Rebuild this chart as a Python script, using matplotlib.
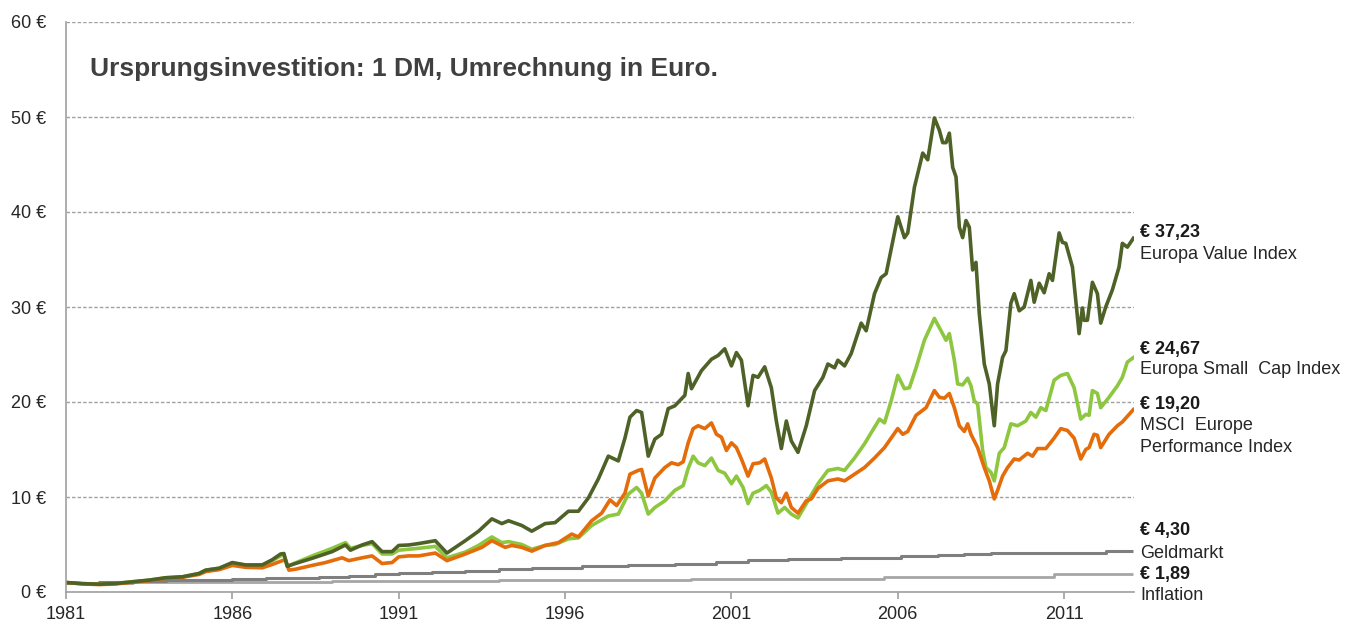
import matplotlib
matplotlib.use("Agg")
import matplotlib.pyplot as plt

plt.rcParams['font.family'] = ['Liberation Sans', 'DejaVu Sans']

# ---------------- data ----------------
value_years = [1981.0, 1981.5, 1982.0, 1982.5, 1983.0, 1983.5, 1984.0, 1984.5, 1985.0, 1985.2, 1985.6,
               1986.0, 1986.4, 1986.9, 1987.2, 1987.45, 1987.55, 1987.65, 1987.85, 1988.4, 1989.0,
               1989.4, 1989.55, 1989.9, 1990.2, 1990.5, 1990.8, 1991.0, 1991.3, 1991.6, 1992.1,
               1992.45, 1993.0, 1993.4, 1993.8, 1994.1, 1994.3, 1994.7, 1995.0, 1995.4, 1995.7,
               1996.1, 1996.4, 1996.7, 1997.0, 1997.3, 1997.6, 1997.8, 1997.95, 1998.15, 1998.3,
               1998.5, 1998.7, 1998.9, 1999.1, 1999.3, 1999.6, 1999.7, 1999.8, 2000.1, 2000.4,
               2000.6, 2000.8, 2001.0, 2001.15, 2001.3, 2001.5, 2001.65, 2001.8, 2002.0, 2002.2,
               2002.35, 2002.5, 2002.65, 2002.8, 2003.0, 2003.25, 2003.5, 2003.75, 2003.9, 2004.1,
               2004.2, 2004.4, 2004.6, 2004.9, 2005.05, 2005.3, 2005.5, 2005.65, 2006.0, 2006.2,
               2006.3, 2006.5, 2006.75, 2006.9, 2007.1, 2007.25, 2007.35, 2007.45, 2007.55, 2007.65,
               2007.75, 2007.85, 2007.95, 2008.05, 2008.15, 2008.25, 2008.35, 2008.45, 2008.6, 2008.75,
               2008.9, 2009.0, 2009.15, 2009.25, 2009.4, 2009.5, 2009.65, 2009.8, 2010.0, 2010.1,
               2010.25, 2010.4, 2010.55, 2010.65, 2010.85, 2010.95, 2011.05, 2011.25, 2011.45, 2011.55,
               2011.6, 2011.7, 2011.85, 2012.0, 2012.1, 2012.25, 2012.45, 2012.65, 2012.75, 2012.9,
               2013.08]
value_vals = [1.0, 0.88, 0.82, 0.9, 1.08, 1.25, 1.5, 1.6, 1.95, 2.3, 2.5,
              3.1, 2.85, 2.85, 3.4, 4.0, 4.05, 2.7, 2.95, 3.55, 4.25,
              4.95, 4.4, 4.95, 5.3, 4.25, 4.25, 4.9, 4.95, 5.1, 5.4,
              4.1, 5.4, 6.4, 7.7, 7.2, 7.5, 7.0, 6.4, 7.2, 7.3,
              8.5, 8.5, 9.9, 11.9, 14.3, 13.8, 16.2, 18.4, 19.1, 18.9,
              14.3, 16.1, 16.6, 19.3, 19.6, 20.7, 23.0, 21.4, 23.3, 24.5,
              24.9, 25.6, 23.8, 25.2, 24.4, 19.6, 22.8, 22.6, 23.7, 21.5,
              18.0, 15.1, 18.0, 15.9, 14.7, 17.5, 21.2, 22.6, 24.0, 23.6,
              24.4, 23.8, 25.1, 28.3, 27.5, 31.4, 33.1, 33.5, 39.5, 37.3,
              37.8, 42.6, 46.2, 45.5, 49.9, 48.6, 47.3, 47.3, 48.3, 44.7,
              43.7, 38.4, 37.3, 39.1, 38.4, 33.9, 34.7, 29.3, 24.0, 21.9,
              17.5, 21.9, 24.7, 25.4, 30.4, 31.4, 29.6, 30.0, 32.8, 30.5,
              32.5, 31.5, 33.5, 32.8, 37.8, 36.8, 36.7, 34.2, 27.2, 29.9,
              28.6, 28.6, 32.6, 31.4, 28.3, 30.0, 31.8, 34.2, 36.7, 36.3,
              37.23]

small_years = [1981.0, 1981.5, 1982.0, 1982.5, 1983.0, 1983.5, 1984.0, 1984.5, 1985.0, 1985.2, 1985.6,
               1986.0, 1986.4, 1986.9, 1987.2, 1987.45, 1987.55, 1987.65, 1987.85, 1988.4, 1989.0,
               1989.4, 1989.55, 1989.9, 1990.2, 1990.5, 1990.8, 1991.0, 1991.3, 1991.6, 1992.1,
               1992.45, 1993.0, 1993.4, 1993.8, 1994.1, 1994.3, 1994.7, 1995.0, 1995.4, 1995.7,
               1996.1, 1996.4, 1996.8, 1997.3, 1997.6, 1997.9, 1998.15, 1998.3, 1998.5, 1998.7,
               1999.0, 1999.3, 1999.55, 1999.7, 1999.85, 2000.0, 2000.2, 2000.4, 2000.6, 2000.8,
               2001.0, 2001.15, 2001.35, 2001.5, 2001.65, 2001.85, 2002.05, 2002.2, 2002.4, 2002.6,
               2002.8, 2003.0, 2003.3, 2003.6, 2003.9, 2004.2, 2004.4, 2004.7, 2005.0, 2005.45,
               2005.6, 2005.8, 2006.0, 2006.2, 2006.35, 2006.55, 2006.8, 2007.1, 2007.3, 2007.45,
               2007.55, 2007.7, 2007.8, 2007.95, 2008.1, 2008.2, 2008.3, 2008.4, 2008.55, 2008.65,
               2008.8, 2008.9, 2009.05, 2009.2, 2009.4, 2009.6, 2009.85, 2010.0, 2010.15, 2010.3,
               2010.45, 2010.7, 2010.9, 2011.1, 2011.3, 2011.5, 2011.65, 2011.75, 2011.85, 2012.0,
               2012.1, 2012.35, 2012.6, 2012.75, 2012.9, 2013.08]
small_vals = [1.0, 0.88, 0.82, 0.9, 1.08, 1.25, 1.5, 1.6, 1.95, 2.3, 2.5,
              3.05, 2.8, 2.85, 3.3, 3.8, 3.9, 2.7, 3.0, 3.8, 4.6,
              5.2, 4.6, 4.9, 5.1, 4.0, 4.0, 4.4, 4.5, 4.6, 4.8,
              3.6, 4.2, 4.9, 5.8, 5.2, 5.3, 5.0, 4.5, 4.9, 5.0,
              5.6, 5.7, 7.0, 8.0, 8.2, 10.3, 11.0, 10.4, 8.2, 8.9,
              9.6, 10.7, 11.2, 13.0, 14.3, 13.6, 13.3, 14.1, 12.8, 12.5,
              11.4, 12.2, 11.0, 9.3, 10.4, 10.7, 11.2, 10.5, 8.3, 8.9,
              8.2, 7.8, 9.6, 11.4, 12.8, 13.0, 12.8, 14.1, 15.6, 18.2,
              17.8, 20.1, 22.8, 21.4, 21.5, 23.6, 26.5, 28.8, 27.5, 26.5,
              27.2, 24.4, 21.9, 21.8, 22.5, 21.7, 20.1, 19.8, 14.9, 13.1,
              12.6, 11.7, 14.6, 15.2, 17.7, 17.5, 18.0, 18.9, 18.4, 19.4,
              19.1, 22.3, 22.8, 23.0, 21.5, 18.2, 18.7, 18.6, 21.2, 20.9,
              19.4, 20.5, 21.7, 22.6, 24.2, 24.67]

msci_years = [1981.0, 1981.5, 1982.0, 1982.5, 1983.0, 1983.5, 1984.0, 1984.5, 1985.0, 1985.2, 1985.6,
              1986.0, 1986.4, 1986.9, 1987.2, 1987.5, 1987.6, 1987.7, 1987.9, 1988.4, 1988.8,
              1989.3, 1989.5, 1989.9, 1990.2, 1990.5, 1990.8, 1991.0, 1991.3, 1991.6, 1992.1,
              1992.45, 1993.0, 1993.5, 1993.8, 1994.2, 1994.4, 1994.7, 1995.0, 1995.4, 1995.8,
              1996.2, 1996.4, 1996.8, 1997.1, 1997.35, 1997.55, 1997.8, 1997.95, 1998.2, 1998.3,
              1998.5, 1998.7, 1999.0, 1999.2, 1999.4, 1999.55, 1999.7, 1999.85, 2000.0, 2000.2,
              2000.4, 2000.55, 2000.7, 2000.85, 2001.0, 2001.15, 2001.3, 2001.5, 2001.65, 2001.85,
              2002.0, 2002.2, 2002.35, 2002.5, 2002.65, 2002.8, 2003.0, 2003.25, 2003.4, 2003.6,
              2003.9, 2004.2, 2004.4, 2004.7, 2005.0, 2005.3, 2005.6, 2006.0, 2006.15, 2006.3,
              2006.55, 2006.85, 2007.1, 2007.25, 2007.4, 2007.55, 2007.7, 2007.85, 2008.0, 2008.1,
              2008.2, 2008.4, 2008.6, 2008.75, 2008.9, 2009.0, 2009.15, 2009.3, 2009.5, 2009.65,
              2009.9, 2010.05, 2010.2, 2010.45, 2010.7, 2010.9, 2011.1, 2011.3, 2011.5, 2011.65,
              2011.75, 2011.9, 2012.0, 2012.1, 2012.35, 2012.6, 2012.75, 2013.08]
msci_vals = [1.0, 0.85, 0.78, 0.85, 1.02, 1.2, 1.45, 1.55, 1.85, 2.15, 2.35,
             2.8, 2.6, 2.55, 2.9, 3.3, 3.4, 2.3, 2.4, 2.8, 3.1,
             3.6, 3.3, 3.6, 3.8, 3.0, 3.1, 3.7, 3.8, 3.8, 4.1,
             3.3, 4.0, 4.7, 5.4, 4.7, 4.9, 4.7, 4.3, 4.9, 5.2,
             6.1, 5.8, 7.5, 8.3, 9.7, 9.1, 10.4, 12.4, 12.8, 12.9,
             10.1, 12.0, 13.1, 13.6, 13.4, 13.7, 15.7, 17.2, 17.5, 17.2,
             17.8, 16.6, 16.3, 14.9, 15.7, 15.2, 14.0, 12.2, 13.5, 13.6,
             14.0, 12.0, 9.9, 9.4, 10.4, 8.9, 8.3, 9.6, 9.8, 10.9,
             11.7, 11.9, 11.7, 12.4, 13.1, 14.1, 15.2, 17.2, 16.6, 16.9,
             18.6, 19.4, 21.2, 20.5, 20.4, 20.9, 19.4, 17.5, 16.9, 17.7,
             16.6, 15.2, 13.1, 11.7, 9.8, 10.7, 12.2, 13.1, 14.0, 13.9,
             14.6, 14.3, 15.1, 15.1, 16.2, 17.2, 17.0, 16.2, 14.0, 15.0,
             15.2, 16.6, 16.5, 15.2, 16.6, 17.5, 17.9, 19.20]

geld_years = [1981.0, 1982.0, 1983.0, 1984.0, 1985.0, 1986.0, 1987.0, 1988.0, 1988.6, 1989.5,
              1990.3, 1991.0, 1992.0, 1993.0, 1994.0, 1995.0, 1996.5, 1997.9, 1999.3, 2000.55,
              2001.5, 2002.7, 2004.3, 2006.1, 2007.2, 2008.0, 2008.8, 2012.25, 2013.08]
geld_vals = [1.0, 1.1, 1.17, 1.23, 1.3, 1.37, 1.45, 1.52, 1.6, 1.7,
             1.85, 1.97, 2.1, 2.25, 2.38, 2.5, 2.72, 2.88, 3.0, 3.15,
             3.35, 3.5, 3.6, 3.75, 3.9, 4.05, 4.15, 4.28, 4.30]

infl_years = [1981.0, 1983.0, 1986.0, 1989.0, 1991.5, 1994.0, 1999.8, 2005.6, 2010.7, 2013.08]
infl_vals = [1.0, 1.05, 1.1, 1.15, 1.2, 1.3, 1.42, 1.6, 1.85, 1.89]

year_ticks = [1981, 1986, 1991, 1996, 2001, 2006, 2011]
euro_ticks = [0, 10, 20, 30, 40, 50, 60]

labels = [("€ 37,23", "Europa Value Index"),
          ("€ 24,67", "Europa Small  Cap Index"),
          ("€ 19,20", "MSCI  Europe\nPerformance Index"),
          ("€ 4,30", "Geldmarkt"),
          ("€ 1,89", "Inflation")]

title = "Ursprungsinvestition: 1 DM, Umrechnung in Euro."

# ---------------- plot ----------------
W, H = 1346, 623
fig = plt.figure(figsize=(W / 100, H / 100), dpi=100)
ax = fig.add_axes([66 / W, 1 - 592 / H, (1134 - 66) / W, (592 - 22) / H])

c_value = "#4e6228"
c_small = "#8dc63f"
c_msci = "#e46c0a"
c_geld = "#7f7f7f"
c_infl = "#a6a6a6"

ax.plot(infl_years, infl_vals, color=c_infl, lw=2.0, drawstyle="steps-post", solid_capstyle="butt")
ax.plot(geld_years, geld_vals, color=c_geld, lw=2.2, drawstyle="steps-post", solid_capstyle="butt")
ax.plot(small_years, small_vals, color=c_small, lw=2.6, solid_joinstyle="round")
ax.plot(msci_years, msci_vals, color=c_msci, lw=2.6, solid_joinstyle="round")
ax.plot(value_years, value_vals, color=c_value, lw=2.6, solid_joinstyle="round")

ax.set_xlim(1981, 2013.1)
ax.set_ylim(0, 60)

ax.set_yticks(euro_ticks)
ax.set_yticklabels([f"{v} €" for v in euro_ticks])
ax.set_xticks(year_ticks)
ax.set_xticklabels([str(y) for y in year_ticks])

ax.yaxis.grid(True, color="#a0a0a0", linestyle=(0, (2.5, 1.5)), lw=1.0)
ax.set_axisbelow(True)
for s in ["top", "right"]:
    ax.spines[s].set_visible(False)
for s in ["left", "bottom"]:
    ax.spines[s].set_color("#a0a0a0")
    ax.spines[s].set_linewidth(1.2)

ax.tick_params(axis="y", length=0, pad=14, labelsize=13, labelcolor="#262626")
ax.tick_params(axis="x", length=5, width=1.2, color="#a0a0a0", pad=5, labelsize=13, labelcolor="#262626")

fig.text(90 / W, 1 - 69 / H, title, fontsize=19, fontweight="bold", color="#404040",
         ha="left", va="center")

# right-side labels
label_y = [(232, [254]), (349, [370]), (405, [426, 448]), (531, [553]), (575, [596])]
for (val, name), (vy, ny) in zip(labels, label_y):
    fig.text(1140 / W, 1 - vy / H, val, fontsize=13, fontweight="bold", color="#1a1a1a",
             ha="left", va="center")
    for line, y in zip(name.split("\n"), ny):
        fig.text(1140 / W, 1 - y / H, line, fontsize=13, color="#262626", ha="left", va="center")

fig.savefig("out.png", dpi=100)
